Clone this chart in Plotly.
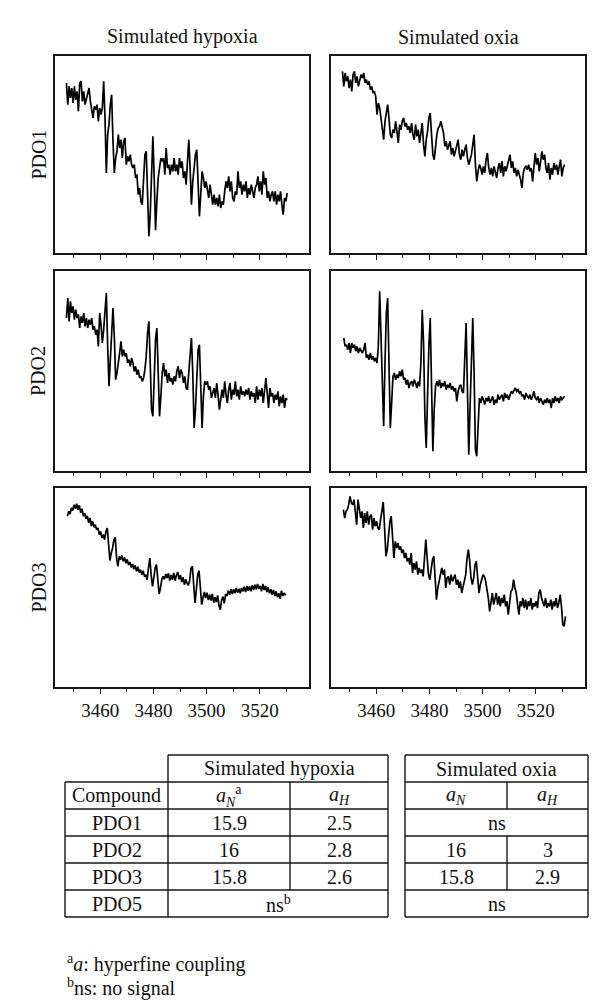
import numpy as np
import plotly.graph_objects as go

# EPR spectra (arbitrary intensity units), sampled evenly over each sweep
FIELD_TICKS = [3460, 3480, 3500, 3520]
FIELD_MINOR = [3450, 3470, 3490, 3510, 3530]

hyp_pdo1_field = (3447.3, 3530.3)
hyp_pdo1 = [95.5, 89, 94.5, 91, 94, 89.5, 94.5, 90.5, 93, 87, 95.5, 96, 90, 93, 89, 90.5, 92.5, 94, 90, 87,
            85, 88.5, 87.5, 89, 84, 88, 86, 88, 96, 85, 68.5, 80, 83, 89, 92, 78, 68.5, 73, 75, 80, 76, 78.5,
            73, 78, 79, 71, 73.5, 72, 74, 71, 70, 71, 67, 68, 62, 64, 60, 59, 67, 74, 75, 60, 49.5, 56, 70,
            79.5, 67, 51.3, 60, 67, 70, 73, 72, 73, 68, 76, 70, 71, 68, 71, 69, 73, 69, 71, 68, 73, 70, 72,
            67, 69, 65, 72, 78.5, 70, 59, 66, 71, 74, 75.5, 65, 55.5, 62, 69, 67, 64, 66, 63, 61, 65, 62, 59,
            62, 59, 61, 58.5, 62, 58, 60, 59, 63, 66, 64, 67.5, 63, 66, 61, 60, 63, 62, 69, 64, 66, 62, 65,
            63, 66, 61, 64, 62, 65, 63, 61, 64, 65, 67.5, 63, 66, 62, 69, 65, 67, 61, 63, 60, 62, 63, 60, 63,
            59, 62, 60, 63, 59, 56, 61, 60, 62.5]

oxi_pdo1_field = (3447.3, 3530.8)
oxi_pdo1 = [99, 94.5, 98.5, 96, 97.5, 94, 96.5, 93, 98, 99, 95.5, 97.5, 94.5, 96, 98, 97, 98.5, 95.5, 96.5, 95,
            96, 93.5, 94.5, 92.5, 93, 91.5, 86, 89.5, 88, 85, 81.5, 78.5, 84, 87, 89, 85, 80, 79, 81.5, 80.5,
            84, 81, 77.5, 83, 81.5, 84, 85, 82.5, 83.5, 81.5, 82.5, 80.5, 83.5, 80, 78.5, 83, 79.5, 81.5,
            77.5, 80.5, 83.5, 77, 73.5, 78.5, 81, 85, 86.5, 80, 74, 72.5, 77.5, 80, 82, 82.5, 84, 82, 80.5,
            76.5, 78, 75.5, 76.5, 78, 74, 76, 73.5, 75, 76.5, 78.5, 74, 72.5, 75.5, 73.5, 75.5, 77, 73, 71,
            72.5, 74, 77, 80, 71, 66, 69, 71, 70, 68, 70.5, 68.5, 72.5, 74.5, 70, 68, 70, 67.5, 70.5, 69, 67,
            70, 71.5, 68.5, 72, 67.5, 70.5, 69, 71, 73, 74, 70, 72, 68.5, 70, 67.5, 69.5, 68, 66.5, 64, 68.5,
            70, 70.5, 69.5, 71, 69, 70, 66, 70.5, 74.5, 71, 73, 69, 71.5, 75, 72.5, 74, 70, 68.5, 71.5, 66.5,
            70, 68, 71.5, 69.5, 71, 68, 70.5, 72.5, 67.5, 70, 71]

hyp_pdo2_field = (3447.3, 3530.3)
hyp_pdo2 = [83.5, 89.5, 82.5, 88.5, 85, 87, 83, 86, 83.5, 84.5, 80.5, 84, 82, 85, 81, 83.5, 80.5, 83, 81.5,
            83.5, 80, 81, 78.5, 80, 75, 85, 81.5, 76, 80, 86, 91, 75, 63, 71, 80, 86.5, 78, 65, 67, 71, 73,
            76.5, 72, 74, 72, 73, 70, 71, 69, 71.5, 70, 67.5, 69, 66.5, 68, 65.5, 66, 64.5, 65.5, 68, 72, 79,
            82.5, 70, 56, 54, 66, 77, 80.5, 67, 54, 60, 67, 70, 66, 68, 64, 67, 64.5, 65.5, 63.5, 66, 64.5,
            67.5, 69, 65.5, 68, 67, 64, 66, 62.5, 62, 68, 74, 77.5, 67, 50.5, 56, 67, 74, 75.5, 62, 50.5, 60,
            64.5, 63.5, 64.5, 62, 63, 59.5, 61.5, 62.5, 59.5, 64, 60.5, 56, 59, 62, 59.5, 64.5, 60.5, 58, 62,
            64, 59, 62, 60.5, 64.5, 60, 62, 59, 63, 60.5, 61.5, 60, 62, 60.5, 62.5, 59, 61.5, 60, 61, 58, 63,
            59, 62, 60, 62.5, 58, 61.5, 65.5, 61, 56.5, 62.5, 60, 61, 58, 60.5, 59, 61.5, 57, 60, 58, 60.5,
            56.5, 59.5, 59]

oxi_pdo2_field = (3447.8, 3530.8)
oxi_pdo2 = [77.5, 75, 75.5, 74, 76, 73, 76, 74.5, 75.5, 73.5, 75, 73, 74.5, 73.5, 73, 74, 76, 71.5, 72.5, 71,
            73, 71, 72, 70.5, 71.5, 70, 75, 91.5, 78, 58, 51, 70, 85, 89.5, 70, 50.5, 58, 66, 67, 65, 66.5,
            65.5, 67.5, 66, 68, 65, 65.5, 63.5, 65, 62.5, 64, 64.5, 63, 65, 64, 62.5, 64.5, 63, 70, 86, 76,
            54, 44.5, 62, 75, 83.5, 65, 43.5, 56, 63, 64.5, 63, 65, 62.5, 64, 63, 64.5, 62, 63.5, 62.5, 64,
            62, 63, 61.5, 62.5, 58.5, 61.5, 63, 63.5, 61.5, 61, 70, 82, 62, 42.5, 57, 74, 83.5, 67, 44, 42,
            52, 59.5, 58, 60, 59, 57.5, 59.5, 58.5, 60, 58, 59, 60, 57.5, 59, 58, 60.5, 59, 60, 60.5, 58.5,
            61, 59.5, 60.5, 59, 60, 61.5, 61, 62, 62.5, 61.5, 62, 61, 61.5, 60, 60.5, 59, 61, 60, 59.5, 60.5,
            59, 60, 61.5, 59.5, 59, 60, 58, 59.5, 58.5, 57.5, 59, 58, 59.5, 58, 59, 56.5, 59.5, 58, 60, 58.5,
            59.5, 58, 60, 59, 59.5, 60]

hyp_pdo3_field = (3447.65, 3529.65)
hyp_pdo3 = [88.5, 90, 89.2, 91, 90.2, 92, 90.8, 92.3, 90.5, 91.8, 89.6, 90.8, 88.6, 89.4, 87.8, 88.6, 86.6,
            88, 85.6, 87, 85.2, 86, 84.5, 85, 83, 84, 82, 83, 81.5, 84, 85, 80, 75.2, 77.5, 79, 81.5, 82.2,
            76, 73.5, 76.5, 75.5, 76.8, 75, 76.2, 74.4, 75.6, 73.9, 74.8, 73.2, 74.2, 72.6, 73.8, 72, 73.4,
            71.6, 72.5, 71, 72.2, 70.4, 71, 69.5, 73, 76, 71, 67.5, 70, 73, 74, 70, 65.2, 67, 69.5, 70.5,
            69.6, 71.2, 70, 71.4, 69.2, 70.9, 69.5, 71.5, 69.2, 70.8, 71.8, 69.6, 70.9, 68.8, 70.2, 68, 69.6,
            68.4, 67.8, 69.4, 73, 73.5, 67, 62.5, 66.5, 71, 72.2, 68, 62, 64, 65.8, 64, 65.6, 63.4, 65, 63.2,
            65.2, 62.6, 64.2, 62.8, 64.8, 61.8, 60.5, 63.4, 64.4, 62.4, 65.2, 64.6, 66.2, 65, 66.6, 65.2,
            66.6, 65.4, 67, 65.6, 66.8, 65.4, 67, 66, 67.4, 65.8, 67.6, 66.2, 67.5, 66, 67.8, 66.4, 68, 66.6,
            68.2, 66.8, 67.6, 66, 68.2, 66.4, 67.6, 65.8, 67.2, 65.4, 66.6, 65, 66.4, 64.6, 66, 64.2, 65.4,
            63.8, 66.2, 64.6, 65.5, 64.8]

oxi_pdo3_field = (3447.65, 3531.15)
oxi_pdo3 = [90.5, 88, 90, 90.5, 92, 94.5, 92.5, 92, 93.5, 90, 86, 93.5, 91, 88, 90, 85, 89.5, 86.5, 90, 86,
            88.5, 89, 84.5, 88, 85.5, 87, 85, 84.5, 87.5, 90, 92.8, 85, 76.5, 78.5, 82, 87, 88.5, 80, 76, 81,
            79, 80.5, 78.5, 79.5, 77.5, 78.5, 76, 77.5, 75, 76, 74, 77.5, 71.5, 74.5, 72.5, 75, 71, 73, 71.5,
            72.5, 70.5, 76, 81.5, 76, 71, 69.5, 72, 75.5, 76.5, 70, 63.5, 67, 69, 70.5, 73, 71, 72.5, 67, 70,
            70.5, 68, 71, 69, 70, 71, 68, 69.5, 67, 69, 65.5, 67.5, 70, 71, 76, 78.5, 75, 70, 68, 70, 74, 75,
            70, 65.5, 68, 70, 71, 70.5, 69, 66.5, 64, 60, 63, 65.5, 62, 64, 65.5, 62, 64.5, 61.5, 64, 62.5,
            65, 61.5, 63, 59, 63.5, 66, 66.5, 69.5, 67, 65.5, 62, 59, 63, 61.5, 64, 61, 63.5, 60.5, 63, 61.5,
            64, 60.5, 62.5, 61.5, 63, 61, 65.5, 66.5, 64, 63, 61.5, 64, 61, 62.5, 61.5, 63.5, 60.5, 63, 61.5,
            64, 61, 62.5, 65, 61.5, 56, 55.5, 58.5]

compounds = ["PDO1", "PDO2", "PDO3", "PDO5"]
hyp_aN = ["15.9", "16", "15.8"]
hyp_aH = ["2.5", "2.8", "2.6"]
oxi_aN = [None, "16", "15.8"]
oxi_aH = [None, "3", "2.9"]

W, H = 600, 1003
FONT = "Liberation Serif"
INK = "#161616"


def px(x):
    return x / W


def py(y):
    return 1 - y / H


panels = [
    (hyp_pdo1, hyp_pdo1_field), (oxi_pdo1, oxi_pdo1_field),
    (hyp_pdo2, hyp_pdo2_field), (oxi_pdo2, oxi_pdo2_field),
    (hyp_pdo3, hyp_pdo3_field), (oxi_pdo3, oxi_pdo3_field),
]
col_px = [(47, 301), (323, 577)]
row_px = [(48, 245), (263, 463), (480, 679)]
y_ranges = [[44.5, 103.6], [37.6, 97.6], [37.3, 97.0]]

fig = go.Figure()
layout = {}
for i, (vals, (f0, f1)) in enumerate(panels):
    r, c = divmod(i, 2)
    n = i + 1
    sfx = "" if n == 1 else str(n)
    field = np.linspace(f0, f1, len(vals))
    fig.add_trace(go.Scatter(x=field, y=vals, mode="lines", line=dict(color="#000", width=1.7),
                             xaxis="x" + sfx, yaxis="y" + sfx, showlegend=False, hoverinfo="skip"))
    layout["xaxis" + sfx] = dict(
        domain=[px(col_px[c][0]), px(col_px[c][1])], anchor="y" + sfx,
        range=[3443.0, 3538.5], showline=True, mirror=True, linecolor=INK, linewidth=1.5,
        ticks="outside", tickvals=FIELD_TICKS, ticklen=5, tickwidth=1, tickcolor=INK,
        minor=dict(ticks="outside", tickvals=FIELD_MINOR, ticklen=3, tickwidth=1, tickcolor=INK),
        showticklabels=(r == 2), showgrid=False, zeroline=False,
        tickfont=dict(family=FONT, size=19, color="#111"),
    )
    layout["yaxis" + sfx] = dict(
        domain=[py(row_px[r][1]), py(row_px[r][0])], anchor="x" + sfx,
        range=y_ranges[r], showline=True, mirror=True, linecolor=INK, linewidth=1.5,
        ticks="", showticklabels=False, showgrid=False, zeroline=False,
    )

annotations = []


def text(x, y, s, size=20, angle=0, xanchor="center"):
    annotations.append(dict(x=px(x), y=py(y), xref="paper", yref="paper", text=s, showarrow=False,
                            textangle=angle, xanchor=xanchor, yanchor="middle",
                            font=dict(family=FONT, size=size, color="#111")))


text(174, 29, "Simulated hypoxia")
text(450, 29, "Simulated oxia")
for r, name in enumerate(compounds[:3]):
    text(30, (row_px[r][0] + row_px[r][1]) / 2, name, angle=-90)

# tables
shapes = []


def hline(x0, x1, y):
    shapes.append(dict(type="line", xref="paper", yref="paper", x0=px(x0), x1=px(x1), y0=py(y), y1=py(y),
                       line=dict(color=INK, width=1.4)))


def vline(x, y0, y1):
    shapes.append(dict(type="line", xref="paper", yref="paper", x0=px(x), x1=px(x), y0=py(y0), y1=py(y1),
                       line=dict(color=INK, width=1.4)))


rows_y = [747, 774, 801, 828, 855, 882, 909]
mid = [(rows_y[k] + rows_y[k + 1]) / 2 for k in range(6)]

# left table
hline(160, 380, rows_y[0])
for yy in rows_y[1:]:
    hline(57, 380, yy)
vline(57, rows_y[1], rows_y[6])
vline(160, rows_y[0], rows_y[6])
vline(282, rows_y[1], rows_y[5])
vline(380, rows_y[0], rows_y[6])
text(271, mid[0], "Simulated hypoxia")
text(108.5, mid[1], "Compound")
text(221, mid[1], "<i>a<sub>N</sub></i><sup>a</sup>")
text(331, mid[1], "<i>a<sub>H</sub></i>")
for k, name in enumerate(compounds):
    text(108.5, mid[k + 2], name)
for k in range(3):
    text(221, mid[k + 2], hyp_aN[k])
    text(331, mid[k + 2], hyp_aH[k])
text(270, mid[5], "ns<sup>b</sup>")

# right table
for yy in rows_y:
    hline(397, 580, yy)
vline(397, rows_y[0], rows_y[6])
vline(580, rows_y[0], rows_y[6])
vline(499, rows_y[1], rows_y[2])
vline(499, rows_y[3], rows_y[5])
text(488.5, mid[0], "Simulated oxia")
text(448, mid[1], "<i>a<sub>N</sub></i>")
text(539.5, mid[1], "<i>a<sub>H</sub></i>")
for k in range(3):
    if oxi_aN[k] is None:
        text(488.5, mid[k + 2], "ns")
    else:
        text(448, mid[k + 2], oxi_aN[k])
        text(539.5, mid[k + 2], oxi_aH[k])
text(488.5, mid[5], "ns")

text(57, 955, "<sup>a</sup><i>a</i>: hyperfine coupling", xanchor="left")
text(57, 979, "<sup>b</sup>ns: no signal", xanchor="left")

fig.update_layout(
    width=W, height=H, margin=dict(l=0, r=0, t=0, b=0),
    paper_bgcolor="white", plot_bgcolor="white",
    annotations=annotations, shapes=shapes, **layout,
)

fig.write_html("out.html")
